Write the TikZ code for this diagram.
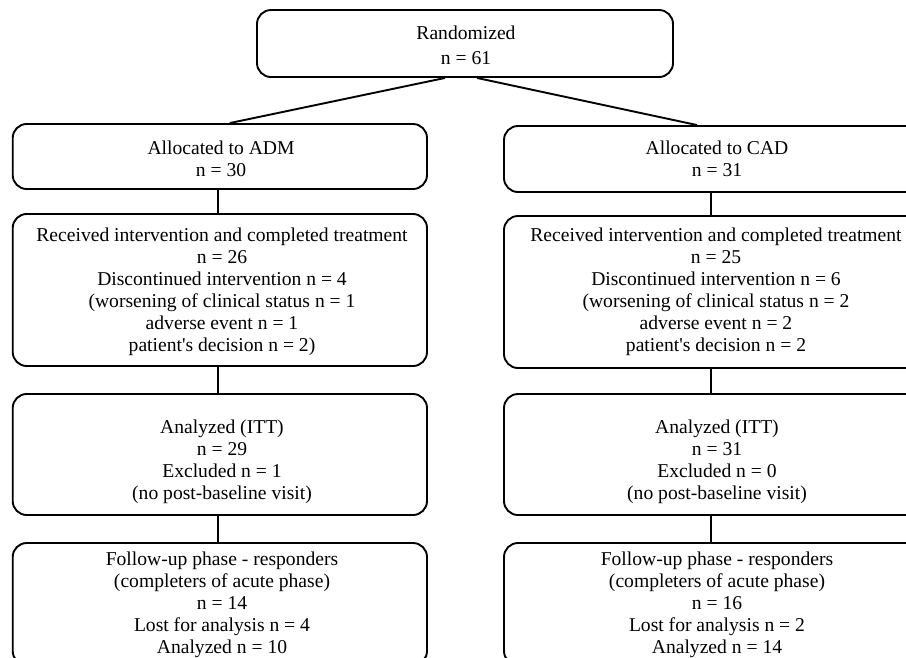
\documentclass[tikz,border=0pt]{standalone}
\usepackage{fontspec}
\setmainfont{Liberation Serif}
\usetikzlibrary{calc}
\begin{document}
\begin{tikzpicture}[x=1pt,y=-1pt]
\tikzset{
  box/.style={draw, line width=1.9pt, rounded corners=14pt, rectangle, inner sep=0pt},
  txt/.style={align=center, inner sep=0pt, font=\fontsize{19.6}{22}\selectfont},
  link/.style={line width=1.9pt}
}
\fill[white] (0,0) rectangle (906,657);
\useasboundingbox (0,0) rectangle (906,657);
\clip (0,0) rectangle (906,657);

% boxes
\node[box, minimum width=416pt, minimum height=67pt] (rand) at (465,43.5) {};
\node[box, minimum width=414.3pt, minimum height=65pt] (a1) at (219.85,156.5) {};
\node[box, minimum width=426pt, minimum height=66pt] (a2) at (717,159) {};
\node[box, minimum width=414.3pt, minimum height=152pt] (r1) at (219.85,290) {};
\node[box, minimum width=426pt, minimum height=152pt] (r2) at (717,292) {};
\node[box, minimum width=414.3pt, minimum height=121pt] (an1) at (219.85,454.5) {};
\node[box, minimum width=426pt, minimum height=121pt] (an2) at (717,454.5) {};
\node[box, minimum width=414.3pt, minimum height=122pt] (f1) at (219.85,604) {};
\node[box, minimum width=426pt, minimum height=122pt] (f2) at (717,604) {};

% texts
\node[txt, font=\fontsize{19.6}{25}\selectfont] (randt) at (466,47) {\strut Randomized\\\strut n = 61};
\node[txt] (a1t) at (221,161.5) {\strut Allocated to ADM\\\strut n = 30};
\node[txt] (a2t) at (717,161) {\strut Allocated to CAD\\\strut n = 31};
\node[txt] (r1t) at (222,292) {\strut Received intervention and completed treatment\\\strut n = 26\\\strut Discontinued intervention n = 4\\\strut (worsening of clinical status n = 1\\\strut adverse event n = 1\\\strut patient\textquotesingle s decision n = 2)};
\node[txt] (r2t) at (716,292) {\strut Received intervention and completed treatment\\\strut n = 25\\\strut Discontinued intervention n = 6\\\strut (worsening of clinical status n = 2\\\strut adverse event n = 2\\\strut patient\textquotesingle s decision n = 2};
\node[txt] (an1t) at (222,462) {\strut Analyzed (ITT)\\\strut n = 29\\\strut Excluded n = 1\\\strut (no post-baseline visit)};
\node[txt] (an2t) at (717,462) {\strut Analyzed (ITT)\\\strut n = 31\\\strut Excluded n = 0\\\strut (no post-baseline visit)};
\node[txt] (f1t) at (222,605) {\strut Follow-up phase - responders\\\strut (completers of acute phase)\\\strut n = 14\\\strut Lost for analysis n = 4\\\strut Analyzed n = 10};
\node[txt] (f2t) at (717,605) {\strut Follow-up phase - responders\\\strut (completers of acute phase)\\\strut n = 16\\\strut Lost for analysis n = 2\\\strut Analyzed n = 14};

% connectors
\draw[link] ($(rand.south)+(-20,0)$) -- ($(a1.north)+(10,0)$);
\draw[link] ($(rand.south)+(12,0)$) -- ($(a2.north)+(-20,0)$);
\draw[link] ($(a1.south)+(-2,0)$) -- ($(r1.north)+(-2,0)$);
\draw[link] ($(r1.south)+(-2,0)$) -- ($(an1.north)+(-2,0)$);
\draw[link] ($(an1.south)+(-2,0)$) -- ($(f1.north)+(-2,0)$);
\draw[link] ($(a2.south)+(-6,0)$) -- ($(r2.north)+(-6,0)$);
\draw[link] ($(r2.south)+(-6,0)$) -- ($(an2.north)+(-6,0)$);
\draw[link] ($(an2.south)+(-6,0)$) -- ($(f2.north)+(-6,0)$);
\end{tikzpicture}
\end{document}
